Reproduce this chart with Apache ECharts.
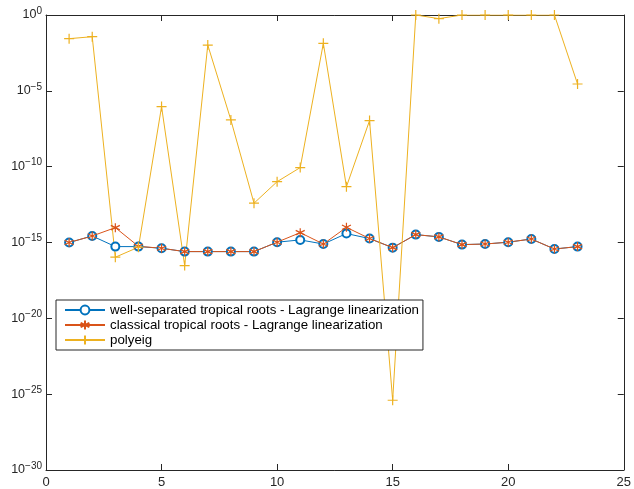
<!DOCTYPE html>
<html>
<head>
<meta charset="utf-8">
<script src="https://cdn.jsdelivr.net/npm/echarts@6/dist/echarts.min.js"></script>
<style>
  html, body { margin: 0; padding: 0; background: #fff; }
  #chart { width: 634px; height: 489px; }
</style>
</head>
<body>
<div id="chart"></div>
<script>
// x positions (problem index)
const xs = [1, 2, 3, 4, 5, 6, 7, 8, 9, 10, 11, 12, 13, 14, 15, 16, 17, 18, 19, 20, 21, 22, 23];
// log10 of the errors (y axis is drawn in decades)
const wellSepExp = [-15.0, -14.57, -15.27, -15.27, -15.38, -15.6, -15.6, -15.6, -15.6, -14.98, -14.83, -15.1,
    -14.41, -14.74, -15.34, -14.48, -14.63, -15.14, -15.1, -14.98, -14.77, -15.43, -15.27];
const classicalExp = [-15.0, -14.57, -14.02, -15.25, -15.38, -15.6, -15.6, -15.6, -15.6, -14.98, -14.35, -15.1,
    -14.0, -14.74, -15.34, -14.48, -14.63, -15.14, -15.1, -14.98, -14.77, -15.43, -15.27];
const polyeigExp = [-1.56, -1.43, -15.97, -15.31, -6.04, -16.52, -1.98, -6.92, -12.41, -10.99, -10.06, -1.87,
    -11.32, -6.96, -25.4, 0, -0.24, 0, 0, 0, 0, 0, -4.55];
const seriesNames = [
    'well-separated tropical roots - Lagrange linearization',
    'classical tropical roots - Lagrange linearization',
    'polyeig'
];

const axisColor = '#262626';
const font = 'Liberation Sans, Arial, sans-serif';

function toPairs(exps) {
    return xs.map((x, i) => [x, exps[i]]);
}

// fresh objects each time, so echarts doesn't share them between axes
function ticks() {
    return { show: true, inside: true, length: 6, lineStyle: { color: axisColor, width: 1 } };
}
function axLine() {
    return { show: true, onZero: false, lineStyle: { color: axisColor, width: 1 } };
}

const myChart = echarts.init(document.getElementById('chart'));

var option = {
    animation: false,
    grid: { left: 46, right: 7, top: 15, bottom: 18 },
    legend: {
        orient: 'vertical',
        left: 56,
        top: 300,
        padding: [3, 4, 3, 8],
        itemWidth: 40,
        itemHeight: 11,
        itemGap: 1,
        backgroundColor: '#fff',
        borderColor: axisColor,
        borderWidth: 1,
        borderRadius: 0,
        textStyle: { fontFamily: font, fontSize: 13.3, lineHeight: 14, color: '#000' },
        data: seriesNames
    },
    xAxis: [{
        type: 'value',
        min: 0, max: 25, interval: 5,
        axisLine: axLine(),
        axisTick: ticks(),
        splitLine: { show: false },
        axisLabel: { fontFamily: font, fontSize: 13, color: axisColor, margin: 6 }
    }, {
        type: 'value', position: 'top',
        min: 0, max: 25, interval: 5,
        axisLine: axLine(),
        axisTick: ticks(),
        splitLine: { show: false },
        axisLabel: { show: false }
    }],
    yAxis: [{
        type: 'value',
        min: -30, max: 0, interval: 5,
        axisLine: axLine(),
        axisTick: ticks(),
        splitLine: { show: false },
        axisLabel: {
            margin: 4,
            formatter: function (v) {
                const e = Math.round(v);
                return '{b|10}{s|' + (e < 0 ? '\u2212' + (-e) : e) + '}';
            },
            rich: {
                b: { fontFamily: font, fontSize: 12.5, color: axisColor },
                s: { fontFamily: font, fontSize: 10, color: axisColor, padding: [0, 0, 8, 0] }
            }
        }
    }, {
        type: 'value', position: 'right',
        min: -30, max: 0, interval: 5,
        axisLine: axLine(),
        axisTick: ticks(),
        splitLine: { show: false },
        axisLabel: { show: false }
    }],
    series: [{
        name: seriesNames[0],
        type: 'line',
        data: toPairs(wellSepExp),
        symbol: 'emptyCircle',
        symbolSize: 8,
        lineStyle: { color: '#0072BD', width: 1 },
        itemStyle: { color: '#0072BD', borderColor: '#0072BD', borderWidth: 1 }
    }, {
        name: seriesNames[1],
        type: 'line',
        data: toPairs(classicalExp),
        symbol: 'path://M0,-1L0,1M-0.87,-0.5L0.87,0.5M-0.87,0.5L0.87,-0.5',
        symbolSize: 9,
        lineStyle: { color: '#D95319', width: 1 },
        itemStyle: { color: '#D95319', borderColor: '#D95319', borderWidth: 1.2 }
    }, {
        name: seriesNames[2],
        type: 'line',
        data: toPairs(polyeigExp),
        symbol: 'path://M0,-1L0,1M-1,0L1,0',
        symbolSize: 10,
        lineStyle: { color: '#EDB120', width: 1 },
        itemStyle: { color: '#EDB120', borderColor: '#EDB120', borderWidth: 1.2 }
    }]
};

myChart.setOption(option);
</script>
</body>
</html>
